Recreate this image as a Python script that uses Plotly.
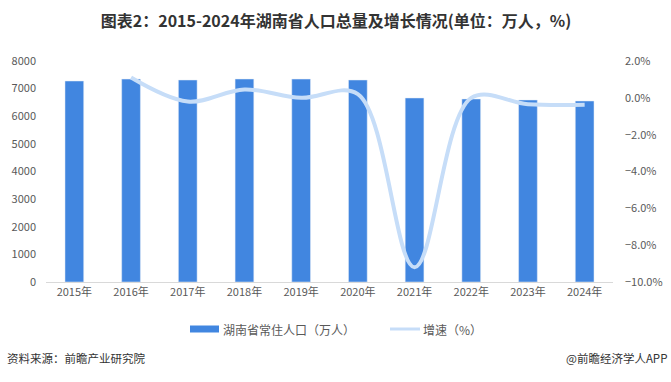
import plotly.graph_objects as go

years = ["2015年", "2016年", "2017年", "2018年", "2019年", "2020年", "2021年", "2022年", "2023年", "2024年"]
population = [7276, 7345, 7312, 7348, 7345, 7312, 6661, 6624, 6588, 6552]
growth = [None, 1.1, -0.2, 0.45, 0.0, 0.2, -9.2, 0.0, -0.35, -0.38]

bar_name = "湖南省常住人口（万人）"
line_name = "增速（%）"
bar_color = "#4186e0"
line_color = "#c6ddf8"

font_cjk = "Noto Sans CJK SC, Microsoft YaHei, sans-serif"

fig = go.Figure()
fig.add_trace(go.Bar(
    x=years, y=population, name=bar_name,
    marker=dict(color=bar_color), width=0.33,
))
fig.add_trace(go.Scatter(
    x=years, y=growth, name=line_name, yaxis="y2", mode="lines",
    line=dict(color=line_color, width=4, shape="spline", smoothing=1.0),
    connectgaps=False,
))

W, H = 671, 382
L, R, T, B = 46, 58, 61, 100
fig.update_layout(
    width=W, height=H,
    margin=dict(l=L, r=R, t=T, b=B, autoexpand=False),
    paper_bgcolor="white", plot_bgcolor="white",
    font=dict(family=font_cjk, size=11, color="#595959"),
    title=dict(text="<b>图表2：2015-2024年湖南省人口总量及增长情况(单位：万人，%)</b>",
               x=(336 - L) / (W - L - R), xanchor="center", xref="paper", y=1 - 21 / H, yanchor="middle",
               font=dict(size=16, color="#333333", family=font_cjk)),
    showlegend=False,
    xaxis=dict(showline=True, linecolor="#d9d9d9", linewidth=1, ticks="",
               tickfont=dict(size=11, color="#595959"), showgrid=False),
    yaxis=dict(range=[0, 8000], dtick=1000, showgrid=False, zeroline=False,
               tickfont=dict(size=11, color="#595959"), ticklabelstandoff=9),
    yaxis2=dict(range=[-10, 2], dtick=2, overlaying="y", side="right",
                showgrid=False, zeroline=False, ticksuffix="%", tickformat=".1f",
                tickfont=dict(size=11, color="#595959"), ticklabelstandoff=11),
)

# pixel -> paper helpers
pl, pr, pt, pb = L, W - R, T, H - B
def px(x):
    return (x - pl) / (pr - pl)
def py(y):
    return (pb - y) / (pb - pt)

# manual legend
leg_y = 329
fig.add_shape(type="rect", xref="paper", yref="paper",
              x0=px(190), x1=px(219), y0=py(leg_y - 3.5), y1=py(leg_y + 3.5),
              fillcolor=bar_color, line=dict(width=0))
fig.add_annotation(text=bar_name, xref="paper", yref="paper",
                   x=px(221), y=py(leg_y), xanchor="left", yanchor="middle", showarrow=False,
                   font=dict(size=12, color="#595959", family=font_cjk))
fig.add_shape(type="line", xref="paper", yref="paper",
              x0=px(390), x1=px(420), y0=py(leg_y), y1=py(leg_y),
              line=dict(color=line_color, width=3))
fig.add_annotation(text=line_name, xref="paper", yref="paper",
                   x=px(421), y=py(leg_y), xanchor="left", yanchor="middle", showarrow=False,
                   font=dict(size=12, color="#595959", family=font_cjk))

fig.add_annotation(text="资料来源：前瞻产业研究院", xref="paper", yref="paper",
                   x=px(5), y=py(358), xanchor="left", yanchor="middle", showarrow=False,
                   font=dict(size=11.5, color="#333333", family=font_cjk))
fig.add_annotation(text="@前瞻经济学人APP", xref="paper", yref="paper",
                   x=px(669), y=py(358), xanchor="right", yanchor="middle", showarrow=False,
                   font=dict(size=11.5, color="#333333", family=font_cjk))

fig.write_html("out.html", config={"displayModeBar": False},
               post_script="document.body.style.margin='0';document.body.style.overflow='hidden';")
